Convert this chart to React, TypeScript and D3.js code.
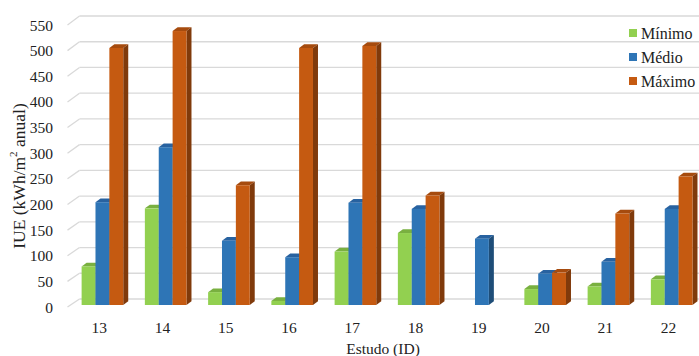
import React from "react";
import * as d3 from "d3";

const categories = ["13", "14", "15", "16", "17", "18", "19", "20", "21", "22"];
const seriesNames = ["Mínimo", "Médio", "Máximo"];
const minimo: (number | null)[] = [75, 188, 25, 8, 104, 140, null, 31, 36, 50];
const medio: (number | null)[] = [200, 307, 125, 93, 199, 187, 129, 61, 84, 187];
const maximo: (number | null)[] = [500, 533, 233, 500, 504, 213, null, 63, 178, 250];
const yTicks = [0, 50, 100, 150, 200, 250, 300, 350, 400, 450, 500, 550];

const faceColors = ["#92D050", "#2E75B6", "#C55A11"];
const sideColors = ["#64913A", "#1E4D78", "#803A0B"];
const topColors = ["#79B040", "#2862A0", "#A64B0E"];

const W = 699;
const H = 356;
const FONT = "Liberation Serif, Times New Roman, serif";

// floor-to-back-wall offset of the 3D plot box
const DX = 12;
const DY = -8;
// bar depth
const BDX = 5;
const BDY = -3.7;

export default function App() {
  const allSeries = [minimo, medio, maximo];

  const yFront = d3.scaleLinear().domain([0, 550]).range([307, 25]);
  const yBack = d3.scaleLinear().domain([0, 550]).range([307 + DY, 25 + DY - 1]);
  const yBar = d3.scaleLinear().domain([0, 550]).range([305, 305 - 550 * 0.514]);

  const x = d3.scaleBand<string>().domain(categories).range([67.5, 700]).paddingInner(0.342).paddingOuter(0.171);
  const xs = d3.scaleBand<string>().domain(seriesNames).range([0, x.bandwidth()]);
  const barShift = 3.3;

  const bars: React.ReactElement[] = [];
  categories.forEach((c, ci) => {
    allSeries.forEach((vals, si) => {
      const v = vals[ci];
      if (v == null) return;
      const x0 = (x(c) as number) + (xs(seriesNames[si]) as number) + barShift;
      const x1 = x0 + xs.bandwidth();
      const yt = yBar(v);
      const yb = yBar(0);
      bars.push(
        <g key={`${c}-${si}`}>
          <polygon
            points={`${x0},${yt} ${x0 + BDX},${yt + BDY} ${x1 + BDX},${yt + BDY} ${x1},${yt}`}
            fill={topColors[si]}
          />
          <polygon
            points={`${x1},${yt} ${x1 + BDX},${yt + BDY} ${x1 + BDX},${yb + BDY} ${x1},${yb}`}
            fill={sideColors[si]}
          />
          <rect x={x0} y={yt} width={x1 - x0} height={yb - yt} fill={faceColors[si]} />
        </g>
      );
    });
  });

  return (
    <svg
      width={W}
      height={H}
      style={{ position: "absolute", left: 0, top: 0, background: "#fff", fontFamily: FONT }}
    >
      {/* gridlines: slanted floor edge then along the back wall */}
      {yTicks.map((t) => (
        <g key={t} stroke="#D9D9D9" strokeWidth={1.3} fill="none">
          <line x1={67.5} y1={yFront(t)} x2={67.5 + DX} y2={yBack(t)} />
          <line x1={67.5 + DX} y1={yBack(t)} x2={W} y2={yBack(t)} />
        </g>
      ))}
      {/* y tick labels */}
      {yTicks.map((t) => (
        <text key={t} x={53} y={yFront(t)} textAnchor="end" dominantBaseline="central" fontSize={15.5} fill="#222">
          {t}
        </text>
      ))}
      {bars}
      {/* category labels */}
      {categories.map((c) => (
        <text
          key={c}
          x={(x(c) as number) + x.bandwidth() / 2}
          y={327}
          textAnchor="middle"
          dominantBaseline="central"
          fontSize={15.5}
          fill="#222"
        >
          {c}
        </text>
      ))}
      <text x={383} y={348} textAnchor="middle" dominantBaseline="central" fontSize={15.5} fill="#222">
        Estudo (ID)
      </text>
      <text
        transform={`translate(19,176) rotate(-90)`}
        textAnchor="middle"
        dominantBaseline="central"
        fontSize={17.5}
        fill="#222"
      >
        IUE (kWh/m
        <tspan fontSize={11} dy={-6}>2</tspan>
        <tspan dy={6}> anual)</tspan>
      </text>
      {/* legend */}
      {seriesNames.map((s, i) => (
        <g key={s} transform={`translate(629,${33 + i * 24})`}>
          <rect x={0} y={-4} width={8} height={8} fill={faceColors[i]} />
          <text x={12} y={0} dominantBaseline="central" fontSize={16} fill="#222">
            {s}
          </text>
        </g>
      ))}
    </svg>
  );
}
